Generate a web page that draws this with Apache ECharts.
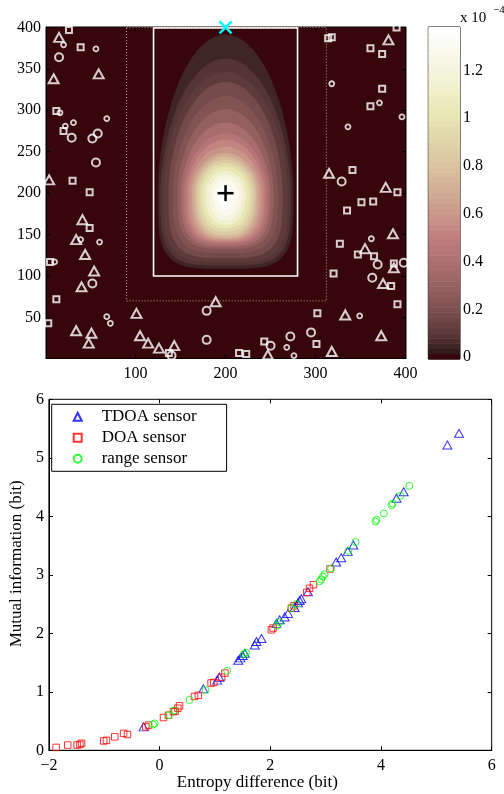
<!DOCTYPE html>
<html><head><meta charset="utf-8">
<script src="https://cdn.jsdelivr.net/npm/echarts@6/dist/echarts.min.js"></script>
<style>html,body{margin:0;padding:0;background:#fff}#c{width:504px;height:794px}</style>
</head><body><div id="c"></div>
<script>
// ================= DATA =================
// top map: axes ticks
const mapXTicks = [100, 200, 300, 400];
const mapYTicks = [50, 100, 150, 200, 250, 300, 350, 400];
// colorbar (x 1e-4)
const cbarTicks = [0, 0.2, 0.4, 0.6, 0.8, 1, 1.2];
const cbarMin = -0.008, cbarMax = 1.382;

// density contours (value x1e-4, top y, bottom y, left x)
const contourLevel  = [0.04, 0.07, 0.10, 0.14, 0.20, 0.26, 0.33, 0.40, 0.48, 0.56, 0.64, 0.72, 0.80, 0.89, 0.98, 1.08, 1.18, 1.26, 1.32];
const contourTop    = [391, 362, 346, 334, 317, 301, 285, 272, 264, 256, 248, 244, 240, 236, 232, 227, 222, 216, 210];
const contourBottom = [109, 113, 117, 122, 128, 133, 136, 139, 141, 143, 145, 147, 150, 154, 158, 162, 167, 173, 180];
const contourLeft   = [125, 128, 131, 137, 142, 147, 151, 154, 157, 160, 163, 166, 168, 171, 174, 178, 182, 186, 191];

const peakPos = [200, 200];
const sensorPos = [200, 400];
const innerBox = [120, 280, 100, 399.5];   // xmin, xmax, ymin, ymax
const outerBox = [90, 312, 70, 400];

const triangleSensors = [[15,388],[9,338],[59,344],[4,216],[41,168],[34,144],[44,126],[54,106],[40,87],[101,55],[34,34],[51,31],[48,19],[105,28],[114,19],[126,13],[143,16],[189,69],[247,5],[318,9],[333,53],[373,28],[375,91],[387,110],[355,133],[386,151],[378,207],[315,224],[381,385]];
const squareSensors = [[26,397],[39,376],[12,299],[20,275],[30,215],[49,201],[49,158],[5,117],[12,72],[3,43],[137,7],[215,7],[223,6],[243,21],[301,18],[302,55],[391,66],[384,88],[320,103],[387,115],[365,124],[347,126],[327,139],[335,179],[351,189],[364,190],[391,201],[341,228],[361,305],[374,326],[374,368],[361,375],[314,387],[318,388],[390,400]];
const bigCircleSensors = [[15,364],[29,267],[52,266],[58,272],[56,237],[52,91],[179,23],[179,58],[250,16],[272,27],[295,32],[329,214],[363,98],[369,114],[398,116],[140,4]];
const smallCircleSensors = [[20,379],[56,374],[16,297],[68,290],[31,285],[22,281],[10,117],[39,144],[60,141],[68,51],[72,43],[268,14],[349,52],[362,145],[318,332],[371,309],[396,292],[336,280],[276,4]];

// bottom scatter
const entropyTicks = [-2, 0, 2, 4, 6];
const miTicks = [0, 1, 2, 3, 4, 5, 6];
const tdoaX = [-0.29, 0.79, 1.04, 1.08, 1.42, 1.46, 1.50, 1.54, 1.72, 1.75, 1.84, 2.11, 2.17, 2.26, 2.32, 2.44, 2.50, 2.53, 2.56, 2.68, 3.19, 3.28, 3.40, 3.50, 4.28, 4.41, 5.20, 5.41];
const tdoaY = [0.40, 1.05, 1.20, 1.25, 1.54, 1.58, 1.62, 1.66, 1.80, 1.86, 1.91, 2.17, 2.23, 2.28, 2.34, 2.44, 2.52, 2.56, 2.59, 2.71, 3.22, 3.29, 3.40, 3.51, 4.31, 4.42, 5.22, 5.42];
const doaX = [-1.87, -1.66, -1.49, -1.44, -1.41, -1.01, -0.96, -0.81, -0.65, -0.58, -0.25, -0.20, 0.07, 0.16, 0.25, 0.28, 0.33, 0.36, 0.63, 0.70, 0.93, 0.98, 1.12, 1.18, 2.02, 2.05, 2.38, 2.43, 2.66, 2.71, 2.78, 3.08];
const doaY = [0.05, 0.09, 0.09, 0.10, 0.12, 0.16, 0.17, 0.23, 0.29, 0.27, 0.40, 0.43, 0.56, 0.60, 0.66, 0.67, 0.72, 0.76, 0.92, 0.94, 1.15, 1.16, 1.25, 1.32, 2.06, 2.09, 2.43, 2.47, 2.70, 2.77, 2.83, 3.10];
const rangeX = [-0.12, -0.09, 0.17, 0.26, 0.54, 0.83, 1.22, 1.52, 1.56, 2.12, 2.16, 2.38, 2.47, 2.89, 2.92, 2.95, 2.98, 3.10, 3.41, 3.54, 3.90, 3.92, 4.05, 4.19, 4.21, 4.35, 4.51];
const rangeY = [0.44, 0.46, 0.60, 0.68, 0.86, 1.03, 1.36, 1.64, 1.67, 2.13, 2.19, 2.43, 2.50, 2.89, 2.92, 2.97, 3.01, 3.11, 3.41, 3.56, 3.91, 3.94, 4.05, 4.19, 4.22, 4.35, 4.52];

// ================= STYLE / RENDER =================
const FONT = 'Liberation Serif';
const BG = '#37060a';
function pinkColor(k) {
  if (k <= 0) return BG;
  const gray = k / 63;
  const hr = Math.min(1, (k + 1) / 24);
  const hg = k < 24 ? 0 : Math.min(1, (k - 23) / 24);
  const hb = k < 48 ? 0 : (k - 47) / 16;
  const f = v => Math.round(255 * Math.sqrt((2 * gray + v) / 3));
  return 'rgb(' + f(hr) + ',' + f(hg) + ',' + f(hb) + ')';
}
function valueColor(v) {
  let k = Math.floor((v - cbarMin) / (cbarMax - cbarMin) * 64);
  k = Math.max(1, Math.min(63, k));
  return pinkColor(k);
}
const cbarSteps = Array.from({length: 64}, (_, k) => k);
const minus = s => String(s).replace('-', '\u2212');

const tickStyle = {show: true, inside: true, length: 4, lineStyle: {color: '#000', width: 1}};
const lblStyle = {fontFamily: FONT, fontSize: 16, color: '#000'};
const hiddenLine = {show: false, onZero: false};

const chart = echarts.init(document.getElementById('c'), null, {renderer: 'canvas'});

const option = {
  backgroundColor: '#fff',
  animation: false,
  textStyle: {fontFamily: FONT},
  grid: [
    {left: 46, top: 27, width: 360, height: 331.5, show: true, backgroundColor: BG, borderColor: '#000', borderWidth: 1},
    {left: 428.3, top: 27, width: 31.7, height: 332, show: true, borderColor: '#000', borderWidth: 1},
    {left: 46.3, top: 399.3, width: 445.4, height: 351, show: true, borderColor: '#000', borderWidth: 1}
  ],
  xAxis: [
    {gridIndex: 0, type: 'value', min: 0.5, max: 400.5, position: 'bottom',
      axisLine: {show: true, onZero: false, lineStyle: {color: '#000'}}, splitLine: {show: false},
      axisTick: Object.assign({}, tickStyle, {customValues: mapXTicks}),
      axisLabel: Object.assign({}, lblStyle, {margin: 7, customValues: mapXTicks})},
    {gridIndex: 0, type: 'value', min: 0.5, max: 400.5, position: 'top',
      axisLine: hiddenLine, splitLine: {show: false},
      axisTick: Object.assign({}, tickStyle, {customValues: mapXTicks}),
      axisLabel: {show: false}},
    {gridIndex: 1, type: 'value', min: 0, max: 1, show: false},
    {gridIndex: 2, type: 'value', min: -2, max: 6, interval: 2, position: 'bottom',
      axisLine: {show: true, onZero: false, lineStyle: {color: '#000'}}, splitLine: {show: false},
      axisTick: tickStyle,
      axisLabel: Object.assign({}, lblStyle, {margin: 7, formatter: v => minus(v)}),
      name: 'Entropy difference (bit)', nameLocation: 'middle', nameGap: 24,
      nameTextStyle: {fontFamily: FONT, fontSize: 17, color: '#000', padding: [0, 26, 0, 0]}},
    {gridIndex: 2, type: 'value', min: -2, max: 6, interval: 2, position: 'top',
      axisLine: hiddenLine, splitLine: {show: false}, axisTick: tickStyle, axisLabel: {show: false}}
  ],
  yAxis: [
    {gridIndex: 0, type: 'value', min: 0.5, max: 400.5, position: 'left',
      axisLine: {show: true, onZero: false, lineStyle: {color: '#000'}}, splitLine: {show: false},
      axisTick: Object.assign({}, tickStyle, {customValues: mapYTicks}),
      axisLabel: Object.assign({}, lblStyle, {margin: 5, customValues: mapYTicks})},
    {gridIndex: 0, type: 'value', min: 0.5, max: 400.5, position: 'right',
      axisLine: hiddenLine, splitLine: {show: false},
      axisTick: Object.assign({}, tickStyle, {customValues: mapYTicks}),
      axisLabel: {show: false}},
    {gridIndex: 1, type: 'value', min: cbarMin, max: cbarMax, position: 'right',
      axisLine: hiddenLine, splitLine: {show: false},
      axisTick: Object.assign({}, tickStyle, {customValues: cbarTicks}),
      axisLabel: Object.assign({}, lblStyle, {margin: 3, customValues: cbarTicks, formatter: v => String(+(+v).toFixed(1))})},
    {gridIndex: 2, type: 'value', min: 0, max: 6, interval: 1, position: 'left',
      axisLine: {show: true, onZero: false, lineStyle: {color: '#000'}}, splitLine: {show: false},
      axisTick: tickStyle,
      axisLabel: Object.assign({}, lblStyle, {margin: 5}),
      name: 'Mutual information (bit)', nameLocation: 'middle', nameGap: 13, nameRotate: 90,
      nameTextStyle: {fontFamily: FONT, fontSize: 17, color: '#000', padding: [0, 0, 0, 22]}},
    {gridIndex: 2, type: 'value', min: 0, max: 6, interval: 1, position: 'right',
      axisLine: hiddenLine, splitLine: {show: false}, axisTick: tickStyle, axisLabel: {show: false}}
  ],
  legend: {
    data: ['TDOA sensor', 'DOA sensor', 'range sensor'],
    left: 51.7, top: 404.3, orient: 'vertical',
    itemWidth: 8, itemHeight: 8, itemGap: 4,
    padding: [4, 30, 4, 21],
    borderColor: '#000', borderWidth: 1, backgroundColor: '#fff',
    textStyle: {fontFamily: FONT, fontSize: 17, color: '#000', padding: [0, 0, 0, 15]},
    selectedMode: false
  },
  graphic: [
    {type: 'text', left: 460, top: 11, style: {text: 'x 10', font: '15px "Liberation Serif"', fill: '#000'}},
    {type: 'text', left: 493, top: 5, style: {text: '\u22124', font: '11px "Liberation Serif"', fill: '#000'}}
  ],
  series: [
    // density contours
    {type: 'custom', xAxisIndex: 0, yAxisIndex: 0, clip: true, silent: true,
      data: contourLevel.map((v, i) => [v, contourTop[i], contourBottom[i], contourLeft[i]]),
      renderItem: (params, api) => {
        const i = params.dataIndex, n = contourLevel.length, f = i / (n - 1);
        const top = api.value(1), bot = api.value(2), left = api.value(3);
        const cx = peakPos[0], cy = peakPos[1];
        const a = cx - left, bu = top - cy, bd = cy - bot;
        const qUp = 1.8 + 0.2 * f, qLow = 4 - 2 * f;
        const pts = [];
        for (let j = 0; j <= 240; j++) {
          const th = 2 * Math.PI * j / 240, c = Math.cos(th), s = Math.sin(th);
          let x, y;
          if (s >= 0) { x = cx + a * c; y = cy + bu * Math.pow(s, 2 / qUp); }
          else { x = cx + a * Math.sign(c) * Math.pow(Math.abs(c), 2 / qLow); y = cy - bd * Math.pow(-s, 2 / qLow); }
          pts.push(api.coord([x, y]));
        }
        const next = i < n - 1 ? contourLevel[i + 1] : cbarMax;
        const col = valueColor((api.value(0) + next) / 2);
        return {type: 'polygon', shape: {points: pts}, style: {fill: col, stroke: col, lineWidth: 0.6}};
      }},
    // boxes
    {type: 'custom', xAxisIndex: 0, yAxisIndex: 0, clip: false, silent: true, z: 3,
      data: [innerBox, outerBox],
      renderItem: (params, api) => {
        const p1 = api.coord([api.value(0), api.value(3)]);
        const p2 = api.coord([api.value(1), api.value(3)]);
        const p3 = api.coord([api.value(1), api.value(2)]);
        const p4 = api.coord([api.value(0), api.value(2)]);
        const dotted = params.dataIndex === 1;
        return {type: 'polygon', shape: {points: [p1, p2, p3, p4]},
          style: {fill: 'none', stroke: dotted ? '#c89c9c' : '#ffffff', lineWidth: dotted ? 1 : 1.6, lineDash: dotted ? [1, 2] : null}};
      }},
    {type: 'scatter', name: 'tri', xAxisIndex: 0, yAxisIndex: 0, symbol: 'triangle', symbolSize: [10, 9], z: 4,
      itemStyle: {color: 'rgba(0,0,0,0)', borderColor: '#fff', borderWidth: 2}, data: triangleSensors},
    {type: 'scatter', name: 'sq', xAxisIndex: 0, yAxisIndex: 0, symbol: 'rect', symbolSize: 6, z: 4,
      itemStyle: {color: 'rgba(0,0,0,0)', borderColor: '#fff', borderWidth: 2}, data: squareSensors},
    {type: 'scatter', name: 'bc', xAxisIndex: 0, yAxisIndex: 0, symbol: 'circle', symbolSize: 8, z: 4,
      itemStyle: {color: 'rgba(0,0,0,0)', borderColor: '#fff', borderWidth: 2}, data: bigCircleSensors},
    {type: 'scatter', name: 'sc', xAxisIndex: 0, yAxisIndex: 0, symbol: 'circle', symbolSize: 5, z: 4,
      itemStyle: {color: 'rgba(0,0,0,0)', borderColor: '#fff', borderWidth: 1.8}, data: smallCircleSensors},
    // peak plus
    {type: 'custom', xAxisIndex: 0, yAxisIndex: 0, clip: false, silent: true, z: 5, data: [peakPos],
      renderItem: (params, api) => {
        const p = api.coord([api.value(0), api.value(1)]);
        return {type: 'group', children: [
          {type: 'line', shape: {x1: p[0] - 8, y1: p[1], x2: p[0] + 8, y2: p[1]}, style: {stroke: '#000', lineWidth: 2.5}},
          {type: 'line', shape: {x1: p[0], y1: p[1] - 8, x2: p[0], y2: p[1] + 8}, style: {stroke: '#000', lineWidth: 2.5}}
        ]};
      }},
    // sensor X
    {type: 'custom', xAxisIndex: 0, yAxisIndex: 0, clip: false, silent: true, z: 6, data: [sensorPos],
      renderItem: (params, api) => {
        const p = api.coord([api.value(0), api.value(1)]);
        return {type: 'group', children: [
          {type: 'line', shape: {x1: p[0] - 6, y1: p[1] - 6, x2: p[0] + 6, y2: p[1] + 6}, style: {stroke: '#00ffff', lineWidth: 2.5}},
          {type: 'line', shape: {x1: p[0] - 6, y1: p[1] + 6, x2: p[0] + 6, y2: p[1] - 6}, style: {stroke: '#00ffff', lineWidth: 2.5}}
        ]};
      }},
    // colorbar
    {type: 'custom', xAxisIndex: 2, yAxisIndex: 2, clip: false, silent: true, data: cbarSteps,
      renderItem: (params, api) => {
        const k = api.value(0);
        const step = (cbarMax - cbarMin) / 64;
        const pTop = api.coord([0, cbarMin + (k + 1) * step]);
        const pBot = api.coord([1, cbarMin + k * step]);
        return {type: 'rect', shape: {x: pTop[0], y: pTop[1], width: pBot[0] - pTop[0], height: pBot[1] - pTop[1] + 0.5},
          style: {fill: pinkColor(k)}};
      }},
    // bottom scatter
    {type: 'scatter', name: 'TDOA sensor', xAxisIndex: 3, yAxisIndex: 3, symbol: 'triangle', symbolSize: [9, 8],
      itemStyle: {color: 'rgba(0,0,0,0)', borderColor: '#0000ff', borderWidth: 1},
      data: tdoaX.map((x, i) => [x, tdoaY[i]])},
    {type: 'scatter', name: 'DOA sensor', xAxisIndex: 3, yAxisIndex: 3, symbol: 'rect', symbolSize: 6.5,
      itemStyle: {color: 'rgba(0,0,0,0)', borderColor: '#ff0000', borderWidth: 1},
      data: doaX.map((x, i) => [x, doaY[i]])},
    {type: 'scatter', name: 'range sensor', xAxisIndex: 3, yAxisIndex: 3, symbol: 'circle', symbolSize: 7,
      itemStyle: {color: 'rgba(0,0,0,0)', borderColor: '#00ff00', borderWidth: 1},
      data: rangeX.map((x, i) => [x, rangeY[i]])}
  ]
};
chart.setOption(option);
</script>
</body></html>
